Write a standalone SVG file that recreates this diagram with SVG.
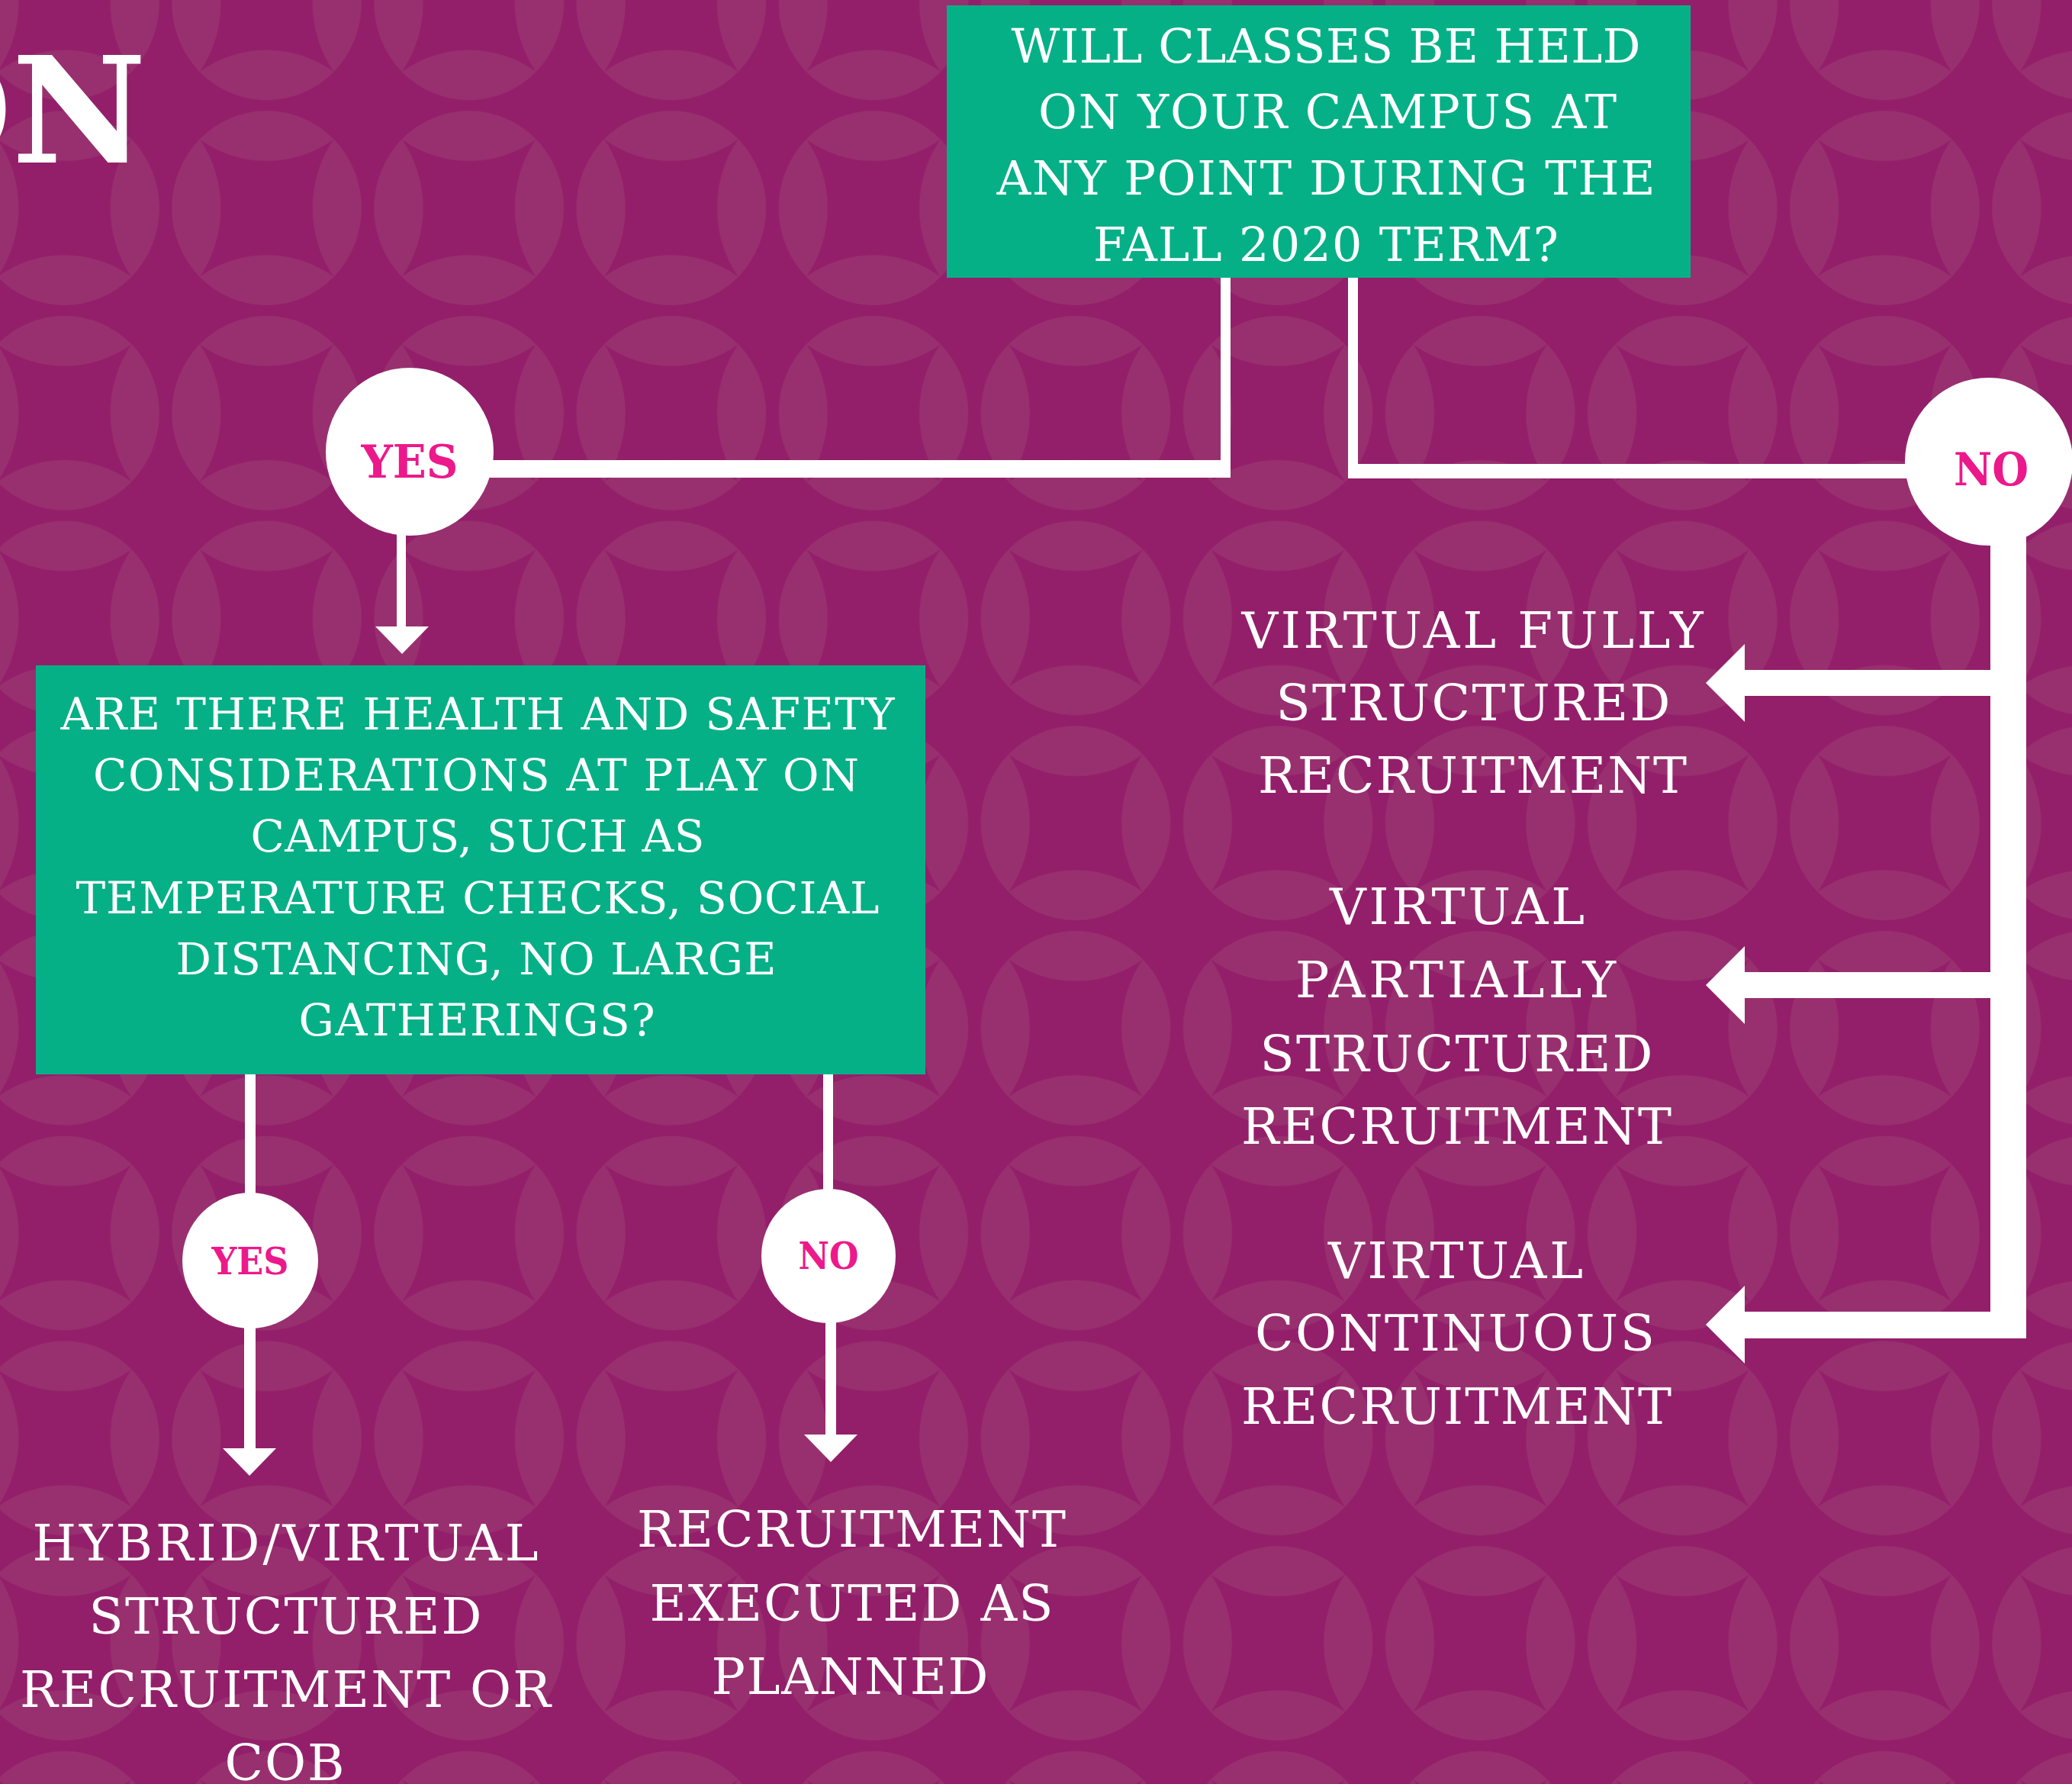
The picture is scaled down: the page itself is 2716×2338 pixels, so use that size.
<svg xmlns="http://www.w3.org/2000/svg" xmlns:xlink="http://www.w3.org/1999/xlink" width="2716" height="2338" viewBox="0 0 2716 2338">
<defs>
<style>
.t{font-family:"DejaVu Serif","Liberation Serif",serif;fill:#fff;text-anchor:middle}
.q1{font-size:62px}
.q2{font-size:58px}
.o{font-size:66px}
.lab{font-family:"DejaVu Serif","Liberation Serif",serif;font-weight:bold;fill:#EC198B;text-anchor:middle}
.big{font-size:60px}
.sm{font-size:48px}
.box{fill:#05B087}
.dot{fill:#fff}
.title{font-family:"DejaVu Serif","Liberation Serif",serif;font-weight:bold;fill:#fff;font-size:193px}
</style>
<path id="lens" d="M-89,-89 A126,126 0 0 1 89,-89 A155,155 0 0 1 -89,-89Z"/>
<path id="ahDown" d="M-35,0 L35,0 L0,36Z"/>
<path id="ahLeft" d="M0,0 L51,-51 L51,51Z"/>
<pattern id="bg" patternUnits="userSpaceOnUse" x="217.05" y="407" width="265.1" height="268.7">
<rect width="265.1" height="268.7" fill="#931F6A"/>
<g transform="translate(132.55,134.35) scale(0.988,1.012)" fill="#98306F">
<use xlink:href="#lens"/>
<use xlink:href="#lens" transform="rotate(90)"/>
<use xlink:href="#lens" transform="rotate(180)"/>
<use xlink:href="#lens" transform="rotate(270)"/>
</g>
</pattern>
</defs>
<rect width="2716" height="2338" fill="url(#bg)"/>

<g id="title">
<text class="title" x="192" y="213" text-anchor="end">ON</text>
</g>

<g id="connectors" fill="#fff">
<rect x="1600" y="360" width="13" height="266"/>
<rect x="600" y="603" width="1013" height="23"/>
<rect x="1767" y="360" width="13" height="267"/>
<rect x="1767" y="608" width="780" height="19"/>
<rect x="520" y="690" width="12" height="135"/>
<use xlink:href="#ahDown" x="527" y="821"/>
<rect x="321" y="1400" width="14" height="170"/>
<rect x="320" y="1735" width="15" height="165"/>
<use xlink:href="#ahDown" x="327" y="1898"/>
<rect x="1079" y="1400" width="13" height="165"/>
<rect x="1082" y="1725" width="14" height="157"/>
<use xlink:href="#ahDown" x="1089" y="1880"/>
<rect x="2609" y="690" width="47" height="1064"/>
<rect x="2285" y="878" width="326" height="34"/>
<use xlink:href="#ahLeft" x="2236" y="895"/>
<rect x="2285" y="1274" width="326" height="34"/>
<use xlink:href="#ahLeft" x="2236" y="1291"/>
<rect x="2285" y="1719" width="371" height="35"/>
<use xlink:href="#ahLeft" x="2236" y="1736"/>
</g>

<g id="q1">
<rect class="box" x="1241" y="7" width="975" height="357"/>
<text class="t q1" x="1738" y="82" textLength="825" lengthAdjust="spacing">WILL CLASSES BE HELD</text>
<text class="t q1" x="1740" y="168" textLength="758" lengthAdjust="spacing">ON YOUR CAMPUS AT</text>
<text class="t q1" x="1738" y="255" textLength="863" lengthAdjust="spacing">ANY POINT DURING THE</text>
<text class="t q1" x="1738" y="342" textLength="610" lengthAdjust="spacing">FALL 2020 TERM?</text>
</g>

<g id="yes1">
<circle class="dot" cx="537" cy="592" r="110"/>
<text class="lab big" x="537" y="626" textLength="127" lengthAdjust="spacingAndGlyphs">YES</text>
</g>

<g id="no1">
<circle class="dot" cx="2607" cy="605" r="110"/>
<text class="lab big" x="2610" y="636" textLength="98" lengthAdjust="spacingAndGlyphs">NO</text>
</g>

<g id="q2">
<rect class="box" x="47" y="872" width="1166" height="536"/>
<text class="t q2" x="626" y="956" textLength="1093" lengthAdjust="spacing">ARE THERE HEALTH AND SAFETY</text>
<text class="t q2" x="624" y="1036" textLength="1004" lengthAdjust="spacing">CONSIDERATIONS AT PLAY ON</text>
<text class="t q2" x="626" y="1116" textLength="595" lengthAdjust="spacing">CAMPUS, SUCH AS</text>
<text class="t q2" x="626" y="1197" textLength="1053" lengthAdjust="spacing">TEMPERATURE CHECKS, SOCIAL</text>
<text class="t q2" x="624" y="1277" textLength="787" lengthAdjust="spacing">DISTANCING, NO LARGE</text>
<text class="t q2" x="625" y="1357" textLength="467" lengthAdjust="spacing">GATHERINGS?</text>
</g>

<g id="yes2">
<circle class="dot" cx="328" cy="1652" r="89"/>
<text class="lab sm" x="328" y="1670" textLength="101" lengthAdjust="spacingAndGlyphs">YES</text>
</g>

<g id="no2">
<circle class="dot" cx="1086" cy="1646" r="88"/>
<text class="lab sm" x="1086" y="1663" textLength="79" lengthAdjust="spacingAndGlyphs">NO</text>
</g>

<g id="out-fully">
<text class="t o" x="1930" y="849" textLength="605" lengthAdjust="spacing">VIRTUAL FULLY</text>
<text class="t o" x="1931" y="944" textLength="517" lengthAdjust="spacing">STRUCTURED</text>
<text class="t o" x="1930" y="1039" textLength="562" lengthAdjust="spacing">RECRUITMENT</text>
</g>

<g id="out-partially">
<text class="t o" x="1910" y="1211" textLength="334" lengthAdjust="spacing">VIRTUAL</text>
<text class="t o" x="1908" y="1307" textLength="420" lengthAdjust="spacing">PARTIALLY</text>
<text class="t o" x="1909" y="1404" textLength="515" lengthAdjust="spacing">STRUCTURED</text>
<text class="t o" x="1909" y="1499" textLength="564" lengthAdjust="spacing">RECRUITMENT</text>
</g>

<g id="out-continuous">
<text class="t o" x="1908" y="1675" textLength="334" lengthAdjust="spacing">VIRTUAL</text>
<text class="t o" x="1907" y="1770" textLength="524" lengthAdjust="spacing">CONTINUOUS</text>
<text class="t o" x="1909" y="1866" textLength="564" lengthAdjust="spacing">RECRUITMENT</text>
</g>

<g id="out-hybrid">
<text class="t o" x="374" y="2045" textLength="663" lengthAdjust="spacing">HYBRID/VIRTUAL</text>
<text class="t o" x="374" y="2141" textLength="515" lengthAdjust="spacing">STRUCTURED</text>
<text class="t o" x="374" y="2237" textLength="696" lengthAdjust="spacing">RECRUITMENT OR</text>
<text class="t o" x="373" y="2333" textLength="157" lengthAdjust="spacing">COB</text>
</g>

<g id="out-planned">
<text class="t o" x="1116" y="2027" textLength="562" lengthAdjust="spacing">RECRUITMENT</text>
<text class="t o" x="1116" y="2124" textLength="529" lengthAdjust="spacing">EXECUTED AS</text>
<text class="t o" x="1114" y="2220" textLength="363" lengthAdjust="spacing">PLANNED</text>
</g>
</svg>
